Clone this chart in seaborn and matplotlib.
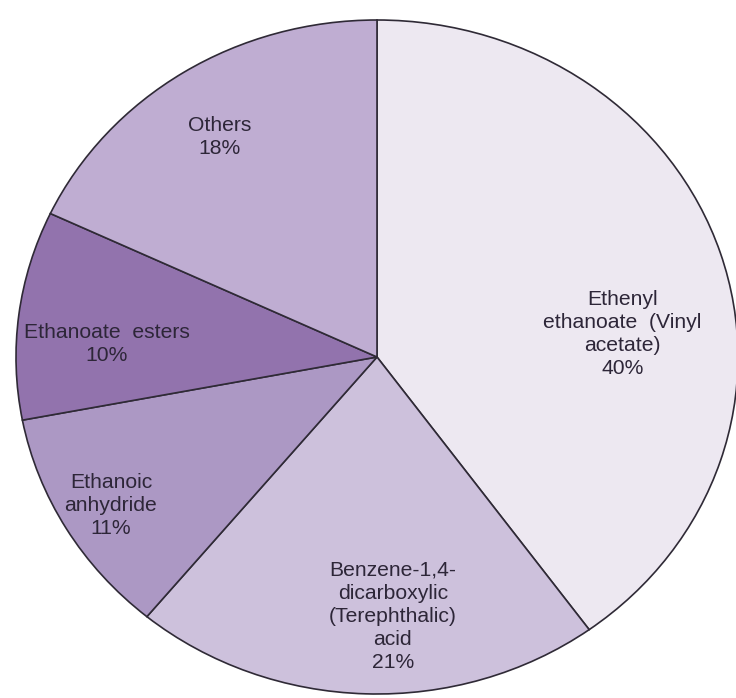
import matplotlib
matplotlib.use("Agg")
import matplotlib.pyplot as plt
import seaborn as sns

# ---- data ----
categories = [
    "Ethenyl\nethanoate  (Vinyl\nacetate)",
    "Benzene-1,4-\ndicarboxylic\n(Terephthalic)\nacid",
    "Ethanoic\nanhydride",
    "Ethanoate  esters",
    "Others",
]
shares = [40, 21, 11, 10, 18]

# ---- style ----
wedge_colors = ["#EDE8F1", "#CDC1DC", "#AC98C4", "#9273AD", "#BFADD2"]
text_color = "#2d2638"
edge_color = "#2f2a36"

sns.set_theme(style="white")
plt.rcParams["font.family"] = ["Liberation Sans", "DejaVu Sans"]

# label placement (data units of the pie axes)
label_xy = [(0.68, 0.068), (0.044, -0.77), (-0.737, -0.44), (-0.748, 0.038), (-0.435, 0.654)]

fig = plt.figure(figsize=(7.36, 6.98), dpi=100)
ax = fig.add_axes([0, 0, 1, 1])

ax.pie(
    shares,
    colors=wedge_colors,
    startangle=90,
    counterclock=False,
    radius=1.0,
    wedgeprops=dict(edgecolor=edge_color, linewidth=1.2),
)

for cat, val, (x, y) in zip(categories, shares, label_xy):
    ax.text(x, y, f"{cat}\n{val}%", ha="center", va="center",
            fontsize=15.2, color=text_color, linespacing=1.27)

# the reference pie is slightly wider than tall and clipped at the edges
cx, cy, rx, ry = 377, 357, 361, 337
W, H = 736, 698
ax.set_aspect("auto")
ax.set_xlim(-cx / rx, (W - cx) / rx)
ax.set_ylim(-(H - cy) / ry, cy / ry)
ax.axis("off")

fig.savefig("out.png", dpi=100, facecolor="white")
